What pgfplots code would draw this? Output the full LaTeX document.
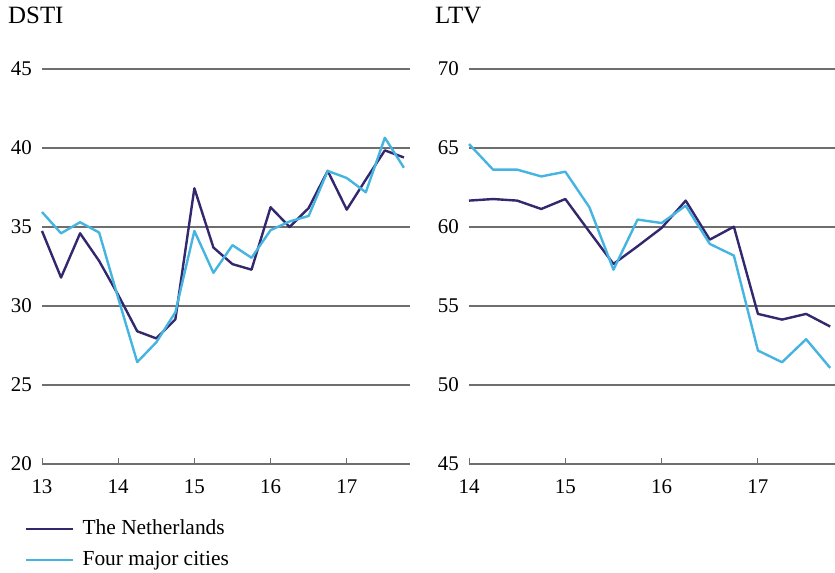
\documentclass[border=0pt]{standalone}
\usepackage{fontspec}
\setmainfont{Liberation Serif}
\usepackage{pgfplots}
\pgfplotsset{compat=1.18}
\definecolor{nlblue}{HTML}{33286E}
\definecolor{citblue}{HTML}{45B4E0}
\definecolor{gridgray}{HTML}{6E6E6E}
\pgfplotsset{
  panel/.style={
    scale only axis,
    height=395bp,
    ymajorgrids,
    grid style={gridgray, line width=1.1bp},
    separate axis lines,
    axis x line*=bottom,
    axis y line*=left,
    y axis line style={draw=none},
    x axis line style={gridgray, line width=1.1bp},
    ytick style={draw=none},
    xtick style={gridgray, line width=1bp},
    xtick align=inside,
    major tick length=6bp,
    xtick pos=bottom,
    font=\fontsize{21}{25}\selectfont,
    /pgf/number format/assume math mode=true,
    yticklabel style={inner sep=0pt, xshift=-10bp},
    xticklabel style={inner sep=0pt, yshift=-15bp},
    clip=false,
    every axis plot/.append style={line width=2.4bp, mark=none, line join=round},
  }
}
\begin{document}
\begin{tikzpicture}
\path[use as bounding box] (0,0) rectangle (835bp,573bp);
\node[anchor=base west, inner sep=0pt, font=\fontsize{25}{30}\selectfont] at (8bp,549bp) {DSTI};
\node[anchor=base west, inner sep=0pt, font=\fontsize{25}{30}\selectfont] at (435bp,549bp) {LTV};
\begin{axis}[panel,
  at={(42bp,109bp)}, anchor=south west,
  width=368bp,
  xmin=13, xmax=17.83, ymin=20, ymax=45,
  xtick={13,14,15,16,17}, ytick={20,25,30,35,40,45},
  legend cell align=left,
  legend style={at={(axis description cs:0,0)}, anchor=north west,
    xshift=-17bp, yshift=-55bp, draw=none, fill=none, inner sep=0pt,
    font=\fontsize{21.5}{25}\selectfont,
    nodes={inner sep=0pt, text height=15bp, text depth=5bp},
    row sep=11bp,
    /tikz/every odd column/.style={column sep=8bp}},
  legend image code/.code={\draw[#1] (0bp,0bp) -- (47bp,0bp);},
]
\addplot[nlblue] coordinates {
(13.00,34.75) (13.25,31.8) (13.50,34.6) (13.75,32.85) (14.00,30.7)
(14.25,28.4) (14.50,27.95) (14.75,29.15) (15.00,37.45) (15.25,33.7)
(15.50,32.65) (15.75,32.3) (16.00,36.25) (16.25,35.0) (16.50,36.2)
(16.75,38.55) (17.00,36.1) (17.25,38.0) (17.50,39.85) (17.75,39.4)};
\addlegendentry{The Netherlands}
\addplot[citblue] coordinates {
(13.00,35.95) (13.25,34.6) (13.50,35.3) (13.75,34.65) (14.00,30.5)
(14.25,26.45) (14.50,27.7) (14.75,29.6) (15.00,34.75) (15.25,32.1)
(15.50,33.85) (15.75,33.05) (16.00,34.8) (16.25,35.35) (16.50,35.7)
(16.75,38.55) (17.00,38.1) (17.25,37.2) (17.50,40.65) (17.75,38.75)};
\addlegendentry{Four major cities}
\end{axis}
\begin{axis}[panel,
  at={(469bp,109bp)}, anchor=south west,
  width=366bp,
  xmin=14, xmax=17.8, ymin=45, ymax=70,
  xtick={14,15,16,17}, ytick={45,50,55,60,65,70},
]
\addplot[nlblue] coordinates {
(14.00,61.67) (14.25,61.77) (14.50,61.67) (14.75,61.14) (15.00,61.77)
(15.25,59.7) (15.50,57.66) (15.75,58.78) (16.00,59.94) (16.25,61.67)
(16.50,59.2) (16.75,60.02) (17.00,54.5) (17.25,54.14) (17.50,54.5)
(17.75,53.7)};
\addplot[citblue] coordinates {
(14.00,65.25) (14.25,63.63) (14.50,63.63) (14.75,63.2) (15.00,63.5)
(15.25,61.25) (15.50,57.3) (15.75,60.47) (16.00,60.25) (16.25,61.35)
(16.50,58.93) (16.75,58.19) (17.00,52.18) (17.25,51.44) (17.50,52.9)
(17.75,51.08)};
\end{axis}
\end{tikzpicture}
\end{document}
